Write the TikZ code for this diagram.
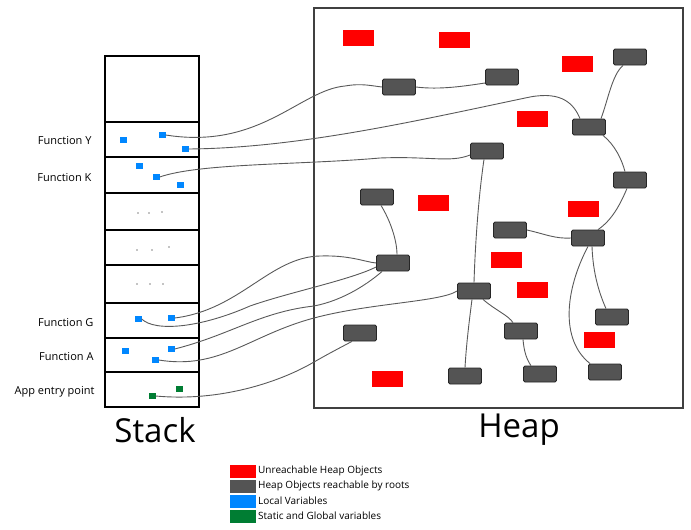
\documentclass[tikz,border=0pt]{standalone}
\usepackage{fontspec}
\setmainfont{Open Sans}
\usepackage{tikz}
\usetikzlibrary{arrows.meta}
\definecolor{unred}{rgb}{1,0,0}
\definecolor{heapgray}{rgb}{0.33,0.33,0.33}
\definecolor{locblue}{rgb}{0,0.53,1}
\definecolor{globgreen}{rgb}{0,0.49,0.2}
\definecolor{wire}{rgb}{0.35,0.35,0.35}

\begin{document}
\begin{tikzpicture}[x=1pt,y=-1pt]
\useasboundingbox (0,0) rectangle (691,530);

% stack column
\draw[line width=1.4pt] (105,56) rectangle (199,407);
\foreach \yy in {122,157,193,230,265,303,338,372}
    \draw[line width=1.4pt] (105,\yy) -- (199,\yy);
\foreach \xx/\yy in {138/213,149/213,162/212,
                     137/250,152/250,169/247,
                     137/284,150/284,163/284}
    \fill (\xx,\yy) circle (0.7);

\begin{scope}[every node/.style={anchor=east,font=\fontsize{11}{13}\selectfont}]
    \node (lblY) at (95,141) {Function Y};
    \node (lblK) at (95,178) {Function K};
    \node (lblG) at (97,323) {Function G};
    \node (lblA) at (97,357) {Function A};
    \node (lblE) at (98,392) {App entry point};
\end{scope}
\node[font=\fontsize{33}{36}\selectfont] (stack) at (155,430) {Stack};
\node[font=\fontsize{33}{36}\selectfont] (heap) at (519,430) {Heap};

% heap area
\draw[draw=black!75,line width=1.2pt] (314,8) rectangle (683,408);

\begin{scope}[every node/.style={fill=unred,minimum width=31pt,minimum height=16pt,inner sep=0pt}]
    \foreach \xx/\yy [count=\i] in {358/38,454/40,577/64,532/119,433/203,
                                    583/209,506/260,532/290,599/340,387/379}
        \node (r\i) at (\xx,\yy) {};
\end{scope}

\begin{scope}[every node/.style={draw=black!85,fill=heapgray,rounded corners=1.5pt,line width=0.8pt,
                                 minimum width=33pt,minimum height=16pt,inner sep=0pt}]
    \node (hA) at (630,57) {};
    \node (hB) at (399,87) {};
    \node (hC) at (502,77) {};
    \node (hD) at (589,127) {};
    \node (hE) at (487,151) {};
    \node (hF) at (630,180) {};
    \node (hG) at (377,197) {};
    \node (hI) at (510,230) {};
    \node (hH) at (588,238) {};
    \node (hJ) at (393,263) {};
    \node (hK) at (474,291) {};
    \node (hL) at (612,317) {};
    \node (hM) at (360,333) {};
    \node (hN) at (521,331) {};
    \node (hO) at (465,376) {};
    \node (hP) at (540,374) {};
    \node (hQ) at (605,372) {};
\end{scope}

\begin{scope}[every node/.style={fill=locblue,minimum width=7pt,minimum height=6pt,inner sep=0pt}]
    \node (y1) at (123,140) {};
    \node (y2) at (162,135) {};
    \node (y3) at (185,149) {};
    \node (k1) at (139,166) {};
    \node (k2) at (156,177) {};
    \node (k3) at (180,185) {};
    \node (g1) at (138,319) {};
    \node (g2) at (171,318) {};
    \node (a1) at (125,351) {};
    \node (a2) at (171,349) {};
    \node (a3) at (155,360) {};
\end{scope}
\begin{scope}[every node/.style={fill=globgreen,minimum width=7pt,minimum height=6pt,inner sep=0pt}]
    \node (s1) at (179,389) {};
    \node (s2) at (152,396) {};
\end{scope}

% references
\begin{scope}[every path/.style={draw=wire,line width=0.9pt}]
    \draw (y2.east) .. controls (260,150) and (300,90) .. (345,86) .. controls (362,83) and (372,86) .. (hB.west);
    \draw (hB.east) .. controls (440,90) and (465,86) .. ([yshift=-6pt]hC.west);
    \draw (y3.east) .. controls (300,148) and (420,120) .. (530,97) .. controls (562,91) and (574,104) .. ([xshift=-9pt]hD.north);
    \draw (k2.east) .. controls (200,163) and (300,165) .. (380,158) .. controls (430,156) and (450,163) .. ([yshift=-4pt]hE.west);
    \draw ([xshift=12pt]hD.north) .. controls (608,100) and (612,75) .. ([xshift=-7pt]hA.south);
    \draw ([xshift=14pt]hD.south) .. controls (615,145) and (622,160) .. ([xshift=-5pt]hF.north);
    \draw ([xshift=-3pt]hF.south) .. controls (620,205) and (612,220) .. ([xshift=10pt]hH.north);
    \draw ([xshift=-3pt]hE.south) .. controls (478,200) and (475,250) .. (hK.north);
    \draw ([xshift=4pt]hG.south) .. controls (390,220) and (397,240) .. ([xshift=4pt]hJ.north);
    \draw (hI.east) .. controls (545,234) and (555,239) .. (hH.west);
    \draw (g2.east) .. controls (240,310) and (270,257) .. (320,256) .. controls (350,255) and (365,262) .. (hJ.west);
    \draw (g1.east) .. controls (155,332) and (200,328) .. (250,306) .. controls (290,292) and (350,280) .. ([yshift=-4pt]hJ.west);
    \draw (a2.east) .. controls (230,335) and (260,312) .. (314,306) .. controls (345,300) and (370,282) .. ([xshift=6pt]hJ.south west);
    \draw (a3.east) .. controls (220,370) and (250,335) .. (314,318) .. controls (370,303) and (440,302) .. (hK.west);
    \draw (s2.east) .. controls (220,402) and (280,382) .. (314,362) .. controls (330,353) .. ([xshift=-8pt]hM.south);
    \draw ([xshift=-2pt]hK.south) .. controls (468,330) and (466,350) .. (hO.north);
    \draw ([xshift=9pt]hK.south) .. controls (495,310) and (508,315) .. ([xshift=-8pt]hN.north);
    \draw ([xshift=2pt]hN.south) .. controls (524,352) and (527,360) .. ([xshift=-9pt]hP.north);
    \draw ([xshift=4pt]hH.south) .. controls (593,275) and (600,295) .. ([xshift=-6pt]hL.north);
    \draw (hH.south) .. controls (565,290) and (560,340) .. ([xshift=2pt]hQ.north west);
\end{scope}

% legend
\begin{scope}[every node/.style={minimum width=26pt,minimum height=13pt,inner sep=0pt}]
    \node[fill=unred] (keyR) at (243,471) {};
    \node[fill=heapgray] (keyH) at (243,486) {};
    \node[fill=locblue] (keyL) at (243,501) {};
    \node[fill=globgreen] (keyS) at (243,516) {};
\end{scope}
\begin{scope}[every node/.style={anchor=west,inner sep=0pt,font=\fontsize{10}{11}\selectfont}]
    \node (txtR) at (258,471) {Unreachable Heap Objects};
    \node (txtH) at (258,486) {Heap Objects reachable by roots};
    \node (txtL) at (258,501) {Local Variables};
    \node (txtS) at (258,516) {Static and Global variables};
\end{scope}
\end{tikzpicture}
\end{document}
